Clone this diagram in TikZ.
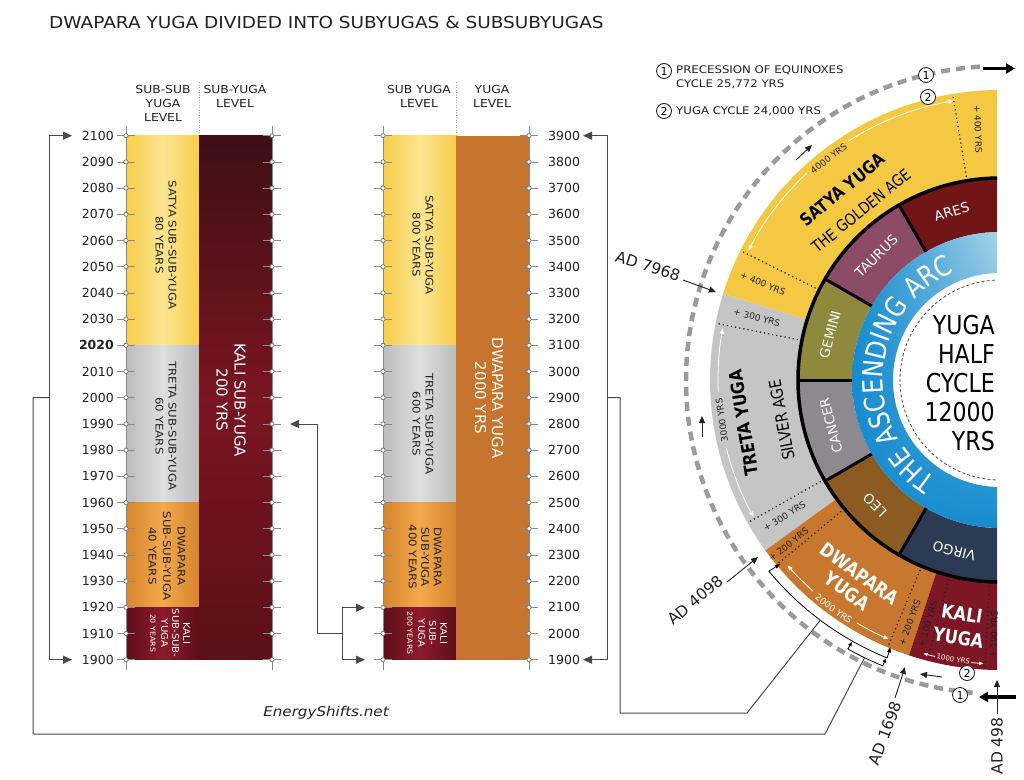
\documentclass[tikz,border=0pt]{standalone}
\usepackage{fontspec}
\setmainfont{DejaVu Sans}
\newfontfamily\cond[FakeStretch=0.85]{DejaVu Sans}
\newfontfamily\wide[FakeStretch=1.12]{DejaVu Sans}
\usetikzlibrary{arrows.meta,decorations.text,shadings}
\newcommand\fsz[2]{\fontsize{#1}{#2}\selectfont}
\newcommand\ringsec[5]{\fill[#1] (#2:#4pt) arc[start angle=#2,end angle=#3,radius=#4pt] -- (#3:#5pt) arc[start angle=#3,end angle=#2,radius=#5pt] -- cycle;}
\definecolor{satY}{HTML}{F8CE4A}
\definecolor{satYl}{HTML}{FBE590}
\definecolor{treG}{HTML}{BDBCBC}
\definecolor{treGl}{HTML}{DFDEDE}
\definecolor{dwaO}{HTML}{D6852C}
\definecolor{dwaOl}{HTML}{F2A84B}
\definecolor{kalR}{HTML}{5E0F1A}
\definecolor{kalRl}{HTML}{8C1C2C}
\definecolor{kalD}{HTML}{3E0F15}
\definecolor{kalM}{HTML}{7A1522}
\definecolor{kalB}{HTML}{5C1019}
\definecolor{dwaY}{HTML}{C7742E}
\definecolor{wSat}{HTML}{F4C843}
\definecolor{wTre}{HTML}{C6C5C5}
\definecolor{wDwa}{HTML}{C8782E}
\definecolor{wKal}{HTML}{7E1725}
\definecolor{zAre}{HTML}{711516}
\definecolor{zTau}{HTML}{8C4C67}
\definecolor{zGem}{HTML}{8E893D}
\definecolor{zCan}{HTML}{8C8A8E}
\definecolor{zLeo}{HTML}{8C5B22}
\definecolor{zVir}{HTML}{2C3B53}
\definecolor{bluD}{HTML}{168BCF}
\definecolor{bluL}{HTML}{A8D4E8}
\definecolor{tickc}{HTML}{8A8A8A}
\definecolor{connc}{HTML}{4A4A4A}
\definecolor{dashc}{HTML}{9B9B9B}
\definecolor{txtc}{HTML}{222222}
\tikzset{
  yearl/.style={font=\fsz{12.5}{15}, text=txtc, inner sep=0pt},
  coltxt/.style={font=\wide\fsz{10.5}{13}, align=center, rotate=-90, text=txtc, inner sep=0pt},
  coltxtw/.style={coltxt, text=white},
  hdr/.style={font=\wide\fsz{11}{14}, align=center, text=txtc, inner sep=0pt},
  tickln/.style={draw=tickc, line width=0.6pt},
  tickdot/.style={draw=black!55, fill=white, line width=0.7pt},
  conn/.style={draw=connc, line width=1pt},
  tri/.style={-{Triangle[length=9pt,width=8pt]}},
  bothtri/.style={arrows={Triangle[length=9pt,width=8pt]-Triangle[length=9pt,width=8pt]}},
  smalltri/.style={draw=txtc, line width=0.9pt, -{Triangle[length=7pt,width=6pt]}},
  thicktri/.style={draw=black, line width=3.5pt, -{Triangle[length=9pt,width=10pt]}},
  numc/.style={circle, draw=txtc, line width=0.9pt, fill=white, inner sep=0pt, minimum size=15pt, font=\fsz{11}{11}},
  dotl/.style={draw=txtc, line width=1.3pt, dash pattern=on 1.2pt off 3pt},
  warc/.style={draw=white, line width=0.8pt},
  wtip/.style={-{Triangle[length=5pt,width=4pt]}},
  sml/.style={font=\fsz{9}{10}, text=txtc, inner sep=0pt},
  zod/.style={font=\fsz{13.5}{15}, text=white, inner sep=0pt},
  adl/.style={font=\fsz{15.5}{17}, text=txtc, inner sep=0pt},
}
\begin{document}
\begin{tikzpicture}[x=1pt,y=1pt]
\fill[white] (0,-779) rectangle (1024,0);
\useasboundingbox (0,-779) rectangle (1024,0);

% title
\node[anchor=west, font=\wide\fsz{16.5}{18}, text=txtc, inner sep=0pt] (title) at (49,-22) {DWAPARA YUGA DIVIDED INTO SUBYUGAS \& SUBSUBYUGAS};

% headers
\node[hdr] (h1) at (163,-103) {SUB-SUB\\YUGA\\LEVEL};
\node[hdr] (h2) at (235,-96) {SUB-YUGA\\LEVEL};
\node[hdr] (h3) at (419,-96) {SUB YUGA\\LEVEL};
\node[hdr] (h4) at (492,-96) {YUGA\\LEVEL};
\draw[black!35, line width=0.6pt, dash pattern=on 1pt off 1.5pt] (199,-82) -- (199,-135.7);
\draw[black!35, line width=0.6pt, dash pattern=on 1pt off 1.5pt] (456,-82) -- (456,-135.7);

% left columns
\shade[left color=satY, right color=satY, middle color=satYl] (126,-135.7) rectangle (199,-345.3);
\shade[left color=treG, right color=treG, middle color=treGl] (126,-345.3) rectangle (199,-502.9);
\shade[left color=dwaO, right color=dwaO, middle color=dwaOl] (126,-502.9) rectangle (199,-607.7);
\shade[left color=kalR, right color=kalR, middle color=kalRl] (126,-607.7) rectangle (199,-659.7);
\shade[top color=kalD, bottom color=kalB, middle color=kalM] (199,-135.7) rectangle (272,-659.7);

% middle columns
\shade[left color=satY, right color=satY, middle color=satYl] (383,-135.7) rectangle (456,-345.3);
\shade[left color=treG, right color=treG, middle color=treGl] (383,-345.3) rectangle (456,-502.9);
\shade[left color=dwaO, right color=dwaO, middle color=dwaOl] (383,-502.9) rectangle (456,-607.7);
\shade[left color=kalR, right color=kalR, middle color=kalRl] (383,-607.7) rectangle (456,-659.7);
\fill[dwaY] (456,-135.7) rectangle (529,-659.7);

% axes
\foreach \ax in {126,272,383,529} \draw[tickln] (\ax,-126) -- (\ax,-670);

% ticks and year labels
\foreach \i in {0,...,20} {
  \pgfmathsetmacro\yy{-135.7-26.2*\i}
  \pgfmathtruncatemacro\yr{2100-10*\i}
  \pgfmathtruncatemacro\yrm{3900-100*\i}
  \draw[tickln] (117,\yy) -- (135,\yy);
  \draw[tickln] (263,\yy) -- (281,\yy);
  \draw[tickln] (374,\yy) -- (392,\yy);
  \draw[tickln] (520,\yy) -- (538,\yy);
  \draw[tickdot] (126,\yy) circle (2.1pt);
  \draw[tickdot] (272,\yy) circle (2.1pt);
  \draw[tickdot] (383,\yy) circle (2.1pt);
  \draw[tickdot] (529,\yy) circle (2.1pt);
  \node[yearl, anchor=east] (L\yr) at (114,\yy) {\ifnum\yr=2020 \textbf{2020}\else\yr\fi};
  \node[yearl, anchor=west] (M\yrm) at (548,\yy) {\yrm};
}

% column texts left
\node[coltxt] (t1) at (166,-245) {SATYA SUB-SUB-YUGA\\80 YEARS};
\node[coltxt] (t2) at (166,-426) {TRETA SUB-SUB-YUGA\\60 YEARS};
\node[coltxt, font=\wide\fsz{10.5}{14.5}] (t3) at (167,-556) {DWAPARA\\SUB-SUB-YUGA\\40 YEARS};
\node[coltxtw, font=\wide\fsz{9}{11}] (t4) at (170,-633) {KALI\\SUB-SUB-\\YUGA\\{\fsz{7}{8}20 YEARS}};
\node[coltxtw, font=\fsz{15}{18}] (t5) at (231,-400) {KALI SUB-YUGA\\200 YRS};
% column texts middle
\node[coltxt] (m1) at (423,-245) {SATYA SUB-YUGA\\800 YEARS};
\node[coltxt] (m2) at (423,-424) {TRETA SUB-YUGA\\600 YEARS};
\node[coltxt, font=\wide\fsz{10.5}{12.5}] (m3) at (425,-557) {DWAPARA\\SUB-YUGA\\400 YEARS};
\node[coltxtw, font=\wide\fsz{9}{11}] (m4) at (427,-633) {KALI\\SUB-\\YUGA\\{\fsz{7}{8}200 YEARS}};
\node[coltxtw, font=\fsz{15}{17}] (m5) at (489,-398) {DWAPARA YUGA\\2000 YRS};

\node[font=\wide\itshape\fsz{13.5}{15}, text=txtc] (site) at (326,-713) {EnergyShifts.net};

% connectors left diagram
\coordinate (lbT) at (72,-135.7);
\coordinate (lbB) at (72,-659.7);
\coordinate (lbM) at (49,-397.7);
\draw[conn, bothtri] (lbT) -- (49,-135.7) -- (49,-659.7) -- (lbB);
\coordinate (mbT) at (365,-607.7);
\coordinate (mbB) at (365,-659.7);
\coordinate (mbM) at (342,-633.7);
\draw[conn, bothtri] (mbT) -- (342,-607.7) -- (342,-659.7) -- (mbB);
\coordinate (kaliTip) at (290,-424);
\draw[conn, tri] (mbM) -- (317,-633.7) -- (317,-424) -- (kaliTip);
\coordinate (rbT) at (583,-135.7);
\coordinate (rbB) at (583,-659.7);
\coordinate (rbM) at (607,-397.7);
\draw[conn, bothtri] (rbT) -- (607,-135.7) -- (607,-659.7) -- (rbB);

% legend
\node[numc] (lg1) at (664,-71) {1};
\node[anchor=west, font=\wide\fsz{10.5}{14}, align=left, text=txtc, inner sep=0pt] (lgt1) at (676,-77) {PRECESSION OF EQUINOXES\\CYCLE 25,772 YRS};
\node[numc] (lg2) at (664,-111) {2};
\node[anchor=west, font=\wide\fsz{10.5}{14}, text=txtc, inner sep=0pt] (lgt2) at (676,-111) {YUGA CYCLE 24,000 YRS};

% wheel
\begin{scope}[shift={(1000,-380)}]
\begin{scope}
\clip (-420,-420) rectangle (-3,420);
\ringsec{wSat}{90}{162.7}{202}{290}
\ringsec{wTre}{162.7}{216}{202}{290}
\ringsec{wDwa}{216}{251.7}{202}{290}
\ringsec{wKal}{251.7}{270}{202}{290}
\ringsec{zAre}{90}{120}{148}{202}
\ringsec{zTau}{120}{150}{148}{202}
\ringsec{zGem}{150}{180}{148}{202}
\ringsec{zCan}{180}{210}{148}{202}
\ringsec{zLeo}{210}{240}{148}{202}
\ringsec{zVir}{240}{270}{148}{202}
\shade[lower left=bluD, upper left=bluD, lower right=bluD, upper right=bluL] (90:148pt) arc[start angle=90,end angle=270,radius=148pt] -- (270:107pt) arc[start angle=270,end angle=90,radius=107pt] -- cycle;
\draw[black!70, line width=0.8pt, dash pattern=on 3pt off 2.2pt] (90:100pt) arc[start angle=90,end angle=270,radius=100pt];
\draw[black, line width=3.5pt] (90:202pt) arc[start angle=90,end angle=270,radius=202pt];
\foreach \a in {120,150,180,210,240} \draw[black, line width=3pt] (\a:148pt) -- (\a:202pt);
\foreach \a in {99.4,153.5,168.7,209.5,219.6,247.2,255.5,267} \draw[dotl] (\a:206pt) -- (\a:287pt);

% white measure arcs
\draw[warc, {Triangle[length=5pt,width=4pt]}-] (152.7:283pt) arc[start angle=152.7,end angle=133,radius=283pt];
\draw[warc, wtip] (122.5:283pt) arc[start angle=122.5,end angle=99.5,radius=283pt];
\draw[warc, {Triangle[length=5pt,width=4pt]}-] (169.5:282pt) arc[start angle=169.5,end angle=182.5,radius=282pt];
\draw[warc, wtip] (194:282pt) arc[start angle=194,end angle=209,radius=282pt];
\draw[warc, {Triangle[length=5pt,width=4pt]}-] (221.1:282pt) arc[start angle=221.1,end angle=228.5,radius=282pt];
\draw[warc, wtip] (239.5:282pt) arc[start angle=239.5,end angle=246.7,radius=282pt];
\draw[warc, {Triangle[length=4pt,width=3.5pt]}-] (254.4:284pt) arc[start angle=254.4,end angle=256.8,radius=284pt];
\draw[warc, -{Triangle[length=4pt,width=3.5pt]}] (264.2:284pt) arc[start angle=264.2,end angle=266.6,radius=284pt];

\node[sml, rotate=37.7] (y4000) at (127.7:280pt) {4000 YRS};
\node[sml, rotate=98.2] (y3000) at (188.2:281pt) {3000 YRS};
\node[sml, text=white, rotate=-36] (y2000) at (234:283pt) {2000 YRS};
\node[sml, text=white, font=\fsz{7}{8}, rotate=-9.5] (y1000) at (260.5:283pt) {1000 YRS};

\node[sml, rotate=-88] (p1) at (95:252pt) {+ 400 YRS};
\node[sml, rotate=-22] (p2) at (157.9:256pt) {+ 400 YRS};
\node[sml, rotate=-14.5] (p3) at (165.6:251pt) {+ 300 YRS};
\node[sml, rotate=31.9] (p4) at (212.3:255pt) {+ 300 YRS};
\node[sml, rotate=38] (p5) at (217.9:268pt) {+ 200 YRS};
\node[sml, rotate=69.7] (p6) at (249.6:259pt) {+ 200 YRS};
\node[sml, rotate=73.5] (p7) at (253.5:255pt) {+ 100 YRS};
\node[sml, rotate=88.5] (p8) at (268.6:255pt) {+ 100 YRS};

% yuga names
\node[font=\cond\bfseries\fsz{17.5}{20}, text=black, inner sep=0pt, rotate=39.6] (satya) at (129.6:247pt) {SATYA YUGA};
\node[font=\cond\fsz{16}{18}, text=black, inner sep=0pt, rotate=39] (golden) at (129.4:219pt) {THE GOLDEN AGE};
\node[font=\cond\bfseries\fsz{18}{20}, text=black, inner sep=0pt, rotate=99.5] (treta) at (189.5:260pt) {TRETA YUGA};
\node[font=\cond\fsz{16.5}{18}, text=black, inner sep=0pt, rotate=100.4] (silver) at (190.4:222pt) {SILVER AGE};
\node[font=\cond\bfseries\fsz{19}{21}, text=white, align=center, inner sep=0pt, rotate=-36] (dwap) at (234.1:250pt) {DWAPARA\\YUGA};
\node[font=\cond\bfseries\fsz{19}{24}, text=white, align=center, inner sep=0pt, rotate=-9] (kali) at (260.8:249pt) {KALI\\YUGA};

% zodiac
\node[zod, rotate=16] (ares) at (106:175pt) {ARES};
\node[zod, rotate=45] (taurus) at (135:175pt) {TAURUS};
\node[zod, rotate=75] (gemini) at (165:176pt) {GEMINI};
\node[zod, rotate=105] (cancer) at (195:175pt) {CANCER};
\node[zod, rotate=135] (leo) at (225:177pt) {LEO};
\node[zod, rotate=165] (virgo) at (255:177pt) {VIRGO};

% ascending arc text
\path[decorate, decoration={text along path, text={|\cond\fsz{28}{28}|THE ASCENDING ARC}, text color=white, text align=center}] (250:117pt) arc[start angle=250,end angle=100,radius=117pt];

\node[font=\cond\fsz{26}{29}, align=right, anchor=east, text=black, inner sep=0pt] (half) at (-5,-3) {YUGA\\HALF\\CYCLE\\12000\\YRS};
\end{scope}

% brackets around Dwapara
\draw[draw=black, line width=0.8pt, arrows={Triangle[length=5pt,width=4pt]-Triangle[length=5pt,width=4pt]}] (219.9:287pt) -- (219.6:300pt) arc[start angle=219.6,end angle=247.9,radius=300pt] -- (247.7:289pt);
\draw[draw=black, line width=0.8pt, arrows={Triangle[length=4pt,width=3.5pt]-Triangle[length=4pt,width=3.5pt]}] (240.5:301pt) -- (240.5:309pt) arc[start angle=240.5,end angle=247.7,radius=309pt] -- (247.7:301pt);
\coordinate (bigB) at (233.2:300pt);
\coordinate (smB) at (244:309pt);

% outer dashed precession path
\draw[draw=dashc, line width=4.5pt, dash pattern=on 9pt off 6pt] (265:314pt) arc[start angle=265,end angle=93,radius=314pt];
\end{scope}

% links to wheel
\draw[conn] (rbM) -- (620,-397.7) -- (620,-713) -- (747,-713) -- (bigB);
\draw[conn] (lbM) -- (33,-397.7) -- (33,-734) -- (825,-734) -- (smB);

% circled numbers on wheel
\node[numc] (c1t) at (926,-75) {1};
\node[numc] (c2t) at (928,-97) {2};
\node[numc] (c1b) at (960,-695) {1};
\node[numc] (c2b) at (967,-673) {2};

% arrows on wheel
\draw[thicktri] (983,-68.5) -- (1015,-68.5);
\draw[thicktri] (1016,-697) -- (979,-697);
\draw[smalltri] (942,-677) -- (920,-674);
\draw[smalltri] (796,-160) -- (812,-145);
\draw[smalltri] (702,-437) -- (702,-416);

% AD labels
\node[adl, rotate=-18] (ad7968) at (648,-266) {AD 7968};
\coordinate (ad7968t) at (716,-292);
\draw[smalltri] (683,-280) -- (ad7968t);
\node[adl, rotate=40] (ad4098) at (695,-600) {AD 4098};
\coordinate (ad4098t) at (758,-557);
\draw[smalltri] (727,-582) -- (ad4098t);
\node[adl, rotate=69] (ad1698) at (885,-733) {AD 1698};
\coordinate (ad1698t) at (905,-667);
\draw[smalltri] (895,-698) -- (ad1698t);
\node[adl, rotate=90] (ad498) at (997,-746) {AD 498};
\coordinate (ad498t) at (997,-680);
\draw[smalltri] (997,-714) -- (ad498t);
\end{tikzpicture}
\end{document}
